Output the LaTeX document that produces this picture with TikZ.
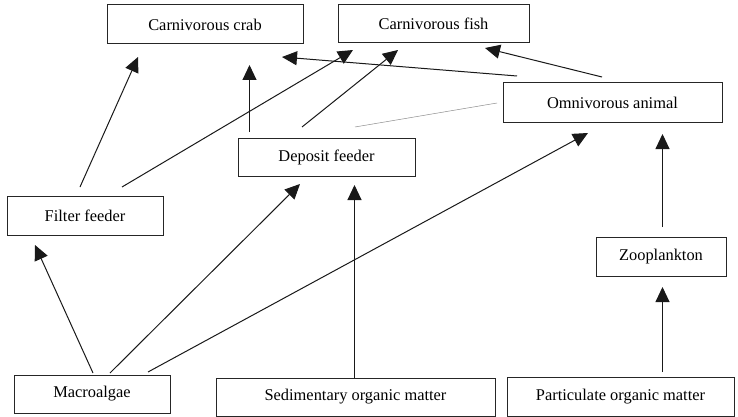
\documentclass[tikz,border=0pt]{standalone}
\usepackage{fontspec}
\setmainfont{Liberation Serif}
\usetikzlibrary{arrows.meta}
\begin{document}
\begin{tikzpicture}[x=1pt,y=-1pt,
  box/.style={draw=black!85,line width=1pt,rectangle,inner sep=0pt,
    font=\fontsize{16.4}{18}\selectfont},
  flow/.style={draw=black!90,line width=1pt,-{Triangle[length=15pt,width=14pt]}},
  faint/.style={draw=black!45,line width=0.5pt}]
\useasboundingbox (0,0) rectangle (738,417);
% boxes
\node[box,minimum width=196pt,minimum height=39pt] (crab) at (205,24.5) {Carnivorous crab};
\node[box,minimum width=191pt,minimum height=38pt] (fish) at (433.5,24) {Carnivorous fish};
\node[box,minimum width=219pt,minimum height=39pt] (omni) at (612.5,102.5) {Omnivorous animal};
\node[box,minimum width=177pt,minimum height=38pt] (dep) at (326.5,157) {Deposit feeder};
\node[box,minimum width=156pt,minimum height=39pt] (filt) at (85,215.5) {Filter feeder};
\node[box,minimum width=130pt,minimum height=39pt] (zoo) at (661,256.5) {Zooplankton};
\node[box,minimum width=156pt,minimum height=38pt] (mac) at (92,394) {Macroalgae};
\node[box,minimum width=279pt,minimum height=38pt] (sed) at (355.5,397) {Sedimentary organic matter};
\node[box,minimum width=227pt,minimum height=39pt] (part) at (620.5,396.5) {Particulate organic matter};
% connector end points
\coordinate (filtA) at (80,187);   \coordinate (crabA) at (138,57);
\coordinate (filtB) at (122,187);  \coordinate (fishA) at (353,50);
\coordinate (depA) at (249.5,132); \coordinate (crabB) at (249.5,65);
\coordinate (depB) at (302,127);   \coordinate (fishB) at (398,50);
\coordinate (omniA) at (517,76);   \coordinate (crabC) at (282,57);
\coordinate (omniB) at (602,77);   \coordinate (fishC) at (485,48);
\coordinate (depC) at (355,127);   \coordinate (omniC) at (497,103);
\coordinate (macA) at (93,373);    \coordinate (filtC) at (35,245);
\coordinate (macB) at (110,373);   \coordinate (depD) at (300,184);
\coordinate (macC) at (148,372);   \coordinate (omniD) at (588,133);
\coordinate (sedA) at (354.5,378); \coordinate (depE) at (354.5,185);
\coordinate (zooA) at (662.5,227); \coordinate (omniE) at (662.5,134);
\coordinate (partA) at (662.5,372);\coordinate (zooB) at (662.5,287);
% connectors
\draw[flow] (filtA) -- (crabA);
\draw[flow] (filtB) -- (fishA);
\draw[flow] (depA) -- (crabB);
\draw[flow] (depB) -- (fishB);
\draw[flow] (omniA) -- (crabC);
\draw[flow] (omniB) -- (fishC);
\draw[faint] (depC) -- (omniC);
\draw[flow] (macA) -- (filtC);
\draw[flow] (macB) -- (depD);
\draw[flow] (macC) -- (omniD);
\draw[flow] (sedA) -- (depE);
\draw[flow] (zooA) -- (omniE);
\draw[flow] (partA) -- (zooB);
\end{tikzpicture}
\end{document}
